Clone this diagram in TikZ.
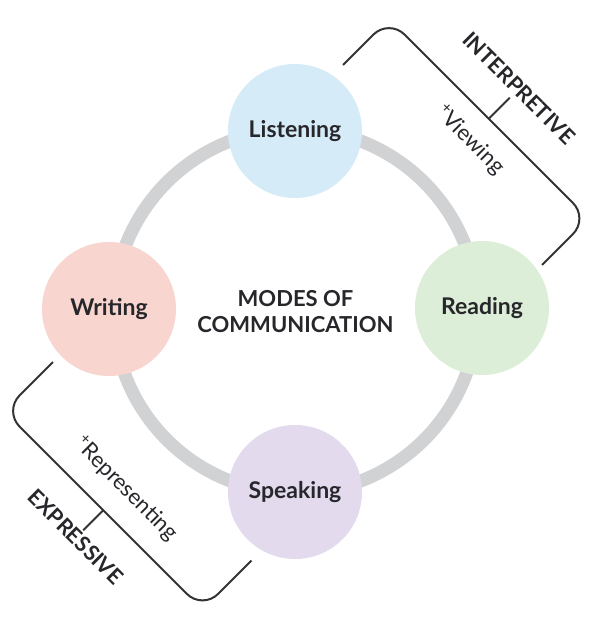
\documentclass[tikz,border=0pt]{standalone}
\usepackage{fontspec}
\setmainfont{Lato}
\definecolor{ringc}{HTML}{D1D2D4}
\definecolor{txtc}{HTML}{26262B}
\definecolor{brkc}{HTML}{333333}
\definecolor{listenc}{HTML}{D6EBF8}
\definecolor{readc}{HTML}{DDEED8}
\definecolor{writec}{HTML}{F8D6CF}
\definecolor{speakc}{HTML}{E3DAEE}
\begin{document}
\begin{tikzpicture}[x=1pt,y=-1pt,
  mode/.style={circle, minimum size=134pt, inner sep=0pt, text=txtc,
    font=\bfseries\fontsize{23}{26}\selectfont},
  center/.style={align=center, text=txtc, font=\bfseries\fontsize{22}{26}\selectfont},
  brk/.style={draw=brkc, line width=2pt, rounded corners=22pt},
  tick/.style={draw=brkc, line width=2pt},
  grp/.style={rotate=-45, text=txtc, font=\bfseries\fontsize{21.5}{24}\selectfont},
  extra/.style={rotate=-45, text=txtc, font=\fontsize{22}{24}\selectfont}]
\useasboundingbox (0,0) rectangle (593,621);
\fill[white] (0,0) rectangle (593,621);
% ring
\draw[ringc, line width=13pt] (295.5,311) circle[radius=182pt];
% modes
\node[mode, fill=listenc] (listen) at (295,131) {Listening};
\node[mode, fill=readc] (read) at (482,308) {Reading};
\node[mode, fill=writec] (write) at (109,309) {Writing};
\node[mode, fill=speakc] (speak) at (295,492) {Speaking};
\node[center] (title) at (295.5,312) {MODES OF\\COMMUNICATION};
% interpretive bracket
\coordinate (ia) at (343,65);
\coordinate (ib) at (389,19);
\coordinate (ic) at (588.5,218.5);
\coordinate (id) at (542,265);
\coordinate (im) at (488.75,118.75);
\coordinate (it) at (509.75,97.75);
\draw[brk] (ia) -- (ib) -- (ic) -- (id);
\draw[tick] (im) -- (it);
\node[grp] (interp) at (519,88) {INTERPRETIVE};
\node[extra] (view) at (470,140) {\textsuperscript{+}Viewing};
% expressive bracket
\coordinate (ea) at (53,362);
\coordinate (eb) at (4,411);
\coordinate (ec) at (202.5,609.5);
\coordinate (ed) at (251.5,560.5);
\coordinate (em) at (103.25,510.25);
\coordinate (et) at (83.25,530.25);
\draw[brk] (ea) -- (eb) -- (ec) -- (ed);
\draw[tick] (em) -- (et);
\node[grp] (expr) at (76,537) {EXPRESSIVE};
\node[extra] (repr) at (126,489) {\textsuperscript{+}Representing};
\end{tikzpicture}
\end{document}
